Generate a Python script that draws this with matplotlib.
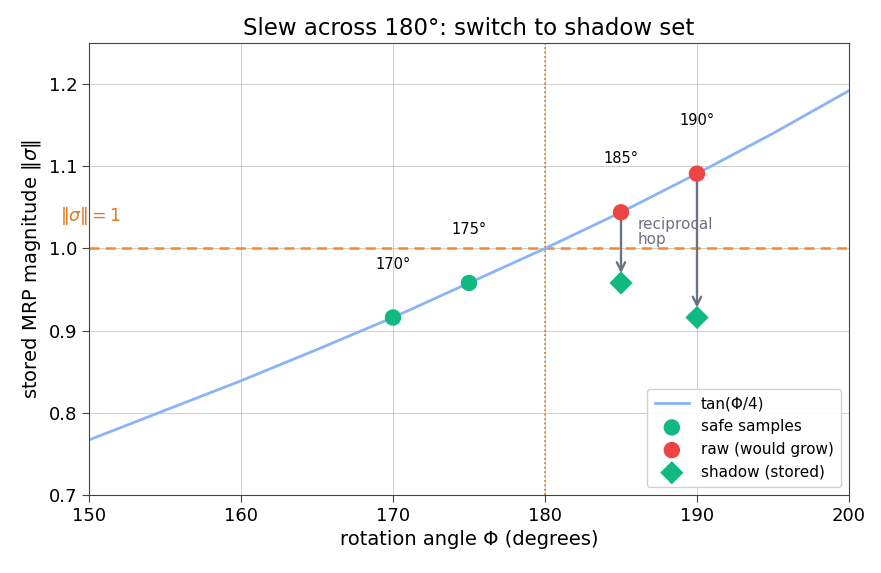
import matplotlib.pyplot as plt

# curve samples (tan(phi/4))
phi_curve = [150, 155, 160, 165, 170, 175, 180, 185, 190, 195, 200]
mag_curve = [0.767, 0.803, 0.839, 0.877, 0.916, 0.958, 1.000, 1.044, 1.091, 1.140, 1.192]

safe_phi = [170, 175]
safe_mag = [0.916, 0.958]
raw_phi = [185, 190]
raw_mag = [1.044, 1.091]
shadow_phi = [185, 190]
shadow_mag = [0.958, 0.916]

label_phi = [170, 175, 185, 190]
label_mag = [0.916, 0.958, 1.044, 1.091]
label_txt = ['170°', '175°', '185°', '190°']

fig = plt.figure(figsize=(8.81, 5.73), dpi=100)
ax = fig.add_axes([89/881, 1 - 495/573, 760/881, 452/573])

ax.plot(phi_curve, mag_curve, color='#8ab4f8', lw=2, label='tan(Φ/4)', zorder=2)
ax.axhline(1.0, color='#f08a30', ls='--', lw=1.8, dashes=(4, 2.5), zorder=1)
ax.axvline(180, color='#d0761f', ls=':', lw=1.2, zorder=1)

ax.scatter(safe_phi, safe_mag, s=140, color='#10b981', edgecolor='none', label='safe samples', zorder=4)
ax.scatter(raw_phi, raw_mag, s=140, color='#ef4444', edgecolor='none', label='raw (would grow)', zorder=4)
ax.scatter(shadow_phi, shadow_mag, s=140, marker='D', color='#10b981', edgecolor='none', label='shadow (stored)', zorder=4)

for x0, y0, y1 in zip(raw_phi, raw_mag, shadow_mag):
    ax.annotate('', xy=(x0, y1), xytext=(x0, y0),
                arrowprops=dict(arrowstyle='->', color='#6b7280', lw=1.7,
                                shrinkA=6, shrinkB=7, mutation_scale=15), zorder=3)

for x, y, t in zip(label_phi, label_mag, label_txt):
    ax.text(x, y + 0.065, t, ha='center', va='center', fontsize=10.5)

ax.text(186.1, 1.02, 'reciprocal\nhop', color='#6b7280', fontsize=11,
        ha='left', va='center', linespacing=1.0)
ax.text(148.1, 1.04, r'$\|\sigma\| = 1$', color='#e07b22', fontsize=12.5,
        ha='left', va='center')

ax.set_xlim(150, 200)
ax.set_ylim(0.7, 1.25)
ax.set_xticks([150, 160, 170, 180, 190, 200])
ax.set_yticks([0.7, 0.8, 0.9, 1.0, 1.1, 1.2])
ax.grid(True, color='#b0b0b0', lw=0.6, alpha=0.7)
ax.set_axisbelow(True)
for sp in ax.spines.values():
    sp.set_color('#444444')
ax.tick_params(labelsize=13, length=5, color='#444444')

ax.set_xlabel('rotation angle Φ (degrees)', fontsize=14)
ax.set_ylabel(r'stored MRP magnitude $\|\sigma\|$', fontsize=14)
ax.set_title('Slew across 180°: switch to shadow set', fontsize=16.5)

ax.legend(loc='lower right', fontsize=11, framealpha=0.9, borderpad=0.5,
          handlelength=2.2, labelspacing=0.5)

fig.savefig('out.png', dpi=100)
